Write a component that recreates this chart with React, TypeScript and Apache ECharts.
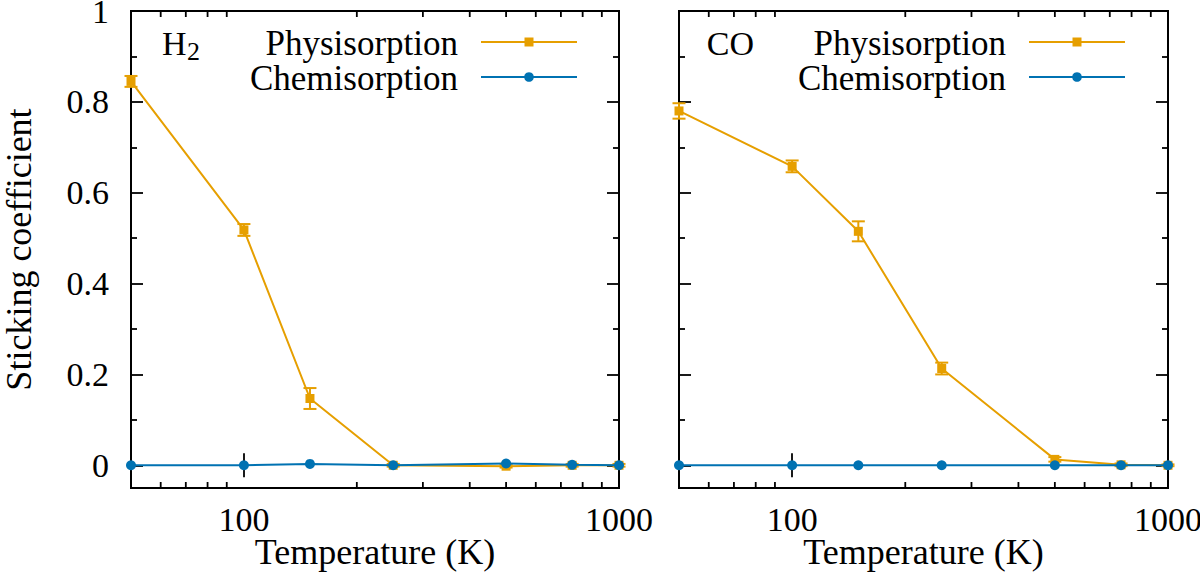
import React, { useEffect, useRef } from "react";
import * as echarts from "echarts";

// ---- Data ----
const temperatures = [50, 100, 150, 250, 500, 750, 1000];

const h2Physisorption = [0.845, 0.518, 0.147, 0.0, -0.002, 0.0, 0.0];
const h2PhysisorptionErr = [0.012, 0.013, 0.023, 0.003, 0.003, 0.003, 0.003];
const h2Chemisorption = [0.0, 0.0, 0.003, 0.0, 0.004, 0.001, 0.0];

const coPhysisorption = [0.78, 0.658, 0.515, 0.213, 0.013, 0.001, 0.0];
const coPhysisorptionErr = [0.017, 0.013, 0.022, 0.013, 0.005, 0.003, 0.002];
const coChemisorption = [0.0, 0.0, 0.0, 0.0, 0.0, 0.0, 0.0];

const xMinorTicks = [60, 70, 80, 90, 200, 300, 400, 500, 600, 700, 800, 900];
const yMajorTicks = [0, 0.2, 0.4, 0.6, 0.8, 1];
const yMinorTicks = [0.1, 0.3, 0.5, 0.7, 0.9];

const panelLabels = ["H", "CO"];
const legendNames = ["Physisorption", "Chemisorption"];

// ---- Style constants ----
const ORANGE = "#E69F00";
const BLUE = "#0072B2";
const FONT = "Liberation Serif";
const X_MIN = 50;
const X_MAX = 1000;
const Y_MIN = -0.05;
const Y_MAX = 1;

const GRIDS = [
  { left: 131, top: 11, width: 488, height: 477 },
  { left: 679, top: 11, width: 489, height: 477 },
];

function App() {
  const ref = useRef<HTMLDivElement>(null);

  useEffect(() => {
    if (!ref.current) return;
    const chart = echarts.init(ref.current, null, { renderer: "svg" });

    const xAxes: any[] = [];
    const yAxes: any[] = [];
    const series: any[] = [];
    const graphics: any[] = [];

    const tickLine = { color: "#000", width: 1.8 };

    const yAxisBase = (gi: number, position: string, values: number[], length: number) => ({
      gridIndex: gi,
      type: "value",
      min: Y_MIN,
      max: Y_MAX,
      position,
      axisLine: { show: false },
      axisTick: { show: true, inside: true, length, lineStyle: tickLine, customValues: values },
      axisLabel: { show: false },
      splitLine: { show: false },
    });

    GRIDS.forEach((g, gi) => {
      xAxes.push({
        gridIndex: gi,
        type: "log",
        logBase: 10,
        min: X_MIN,
        max: X_MAX,
        position: "bottom",
        axisLine: { show: false },
        axisTick: { show: true, inside: true, length: 12, lineStyle: tickLine },
        axisLabel: {
          show: true,
          showMinLabel: false,
          color: "#000",
          fontFamily: FONT,
          fontSize: 34,
          lineHeight: 30,
          margin: 16,
          formatter: (v: number) => String(Math.round(v)),
        },
        splitLine: { show: false },
        minorTick: { show: false },
        name: "Temperature (K)",
        nameLocation: "middle",
        nameGap: 46,
        nameMoveOverlap: false,
        nameTextStyle: { color: "#000", fontFamily: FONT, fontSize: 36, lineHeight: 36 },
      });
      xAxes.push({
        gridIndex: gi,
        type: "log",
        logBase: 10,
        min: X_MIN,
        max: X_MAX,
        position: "top",
        axisLine: { show: false },
        axisTick: { show: true, inside: true, length: 12, lineStyle: tickLine },
        axisLabel: { show: false },
        splitLine: { show: false },
      });
      const yMain: any = yAxisBase(gi, "left", yMajorTicks, 12);
      yMain.axisLabel = {
        show: gi === 0,
        customValues: yMajorTicks,
        color: "#000",
        fontFamily: FONT,
        fontSize: 34,
        lineHeight: 22,
        margin: 22,
      };
      if (gi === 0) {
        yMain.name = "Sticking coefficient";
        yMain.nameLocation = "middle";
        yMain.nameGap = 94;
        yMain.nameMoveOverlap = false;
        yMain.nameTextStyle = { color: "#000", fontFamily: FONT, fontSize: 36, lineHeight: 36 };
      }
      yAxes.push(yMain);
      yAxes.push(yAxisBase(gi, "left", yMinorTicks, 6));
      yAxes.push(yAxisBase(gi, "right", yMajorTicks, 12));
      yAxes.push(yAxisBase(gi, "right", yMinorTicks, 6));
    });

    const xIdx = (gi: number) => gi * 2;
    const yIdx = (gi: number) => gi * 4;

    const panels = [
      { phys: h2Physisorption, err: h2PhysisorptionErr, chem: h2Chemisorption },
      { phys: coPhysisorption, err: coPhysisorptionErr, chem: coChemisorption },
    ];

    panels.forEach((p, gi) => {
      series.push({
        type: "custom",
        xAxisIndex: xIdx(gi),
        yAxisIndex: yIdx(gi),
        data: xMinorTicks.map((t) => [t, Y_MIN]),
        silent: true,
        clip: false,
        z: 1,
        renderItem: (params: any, api: any) => {
          const pt = api.coord([api.value(0), api.value(1)]);
          const cs = params.coordSys;
          const st = { stroke: "#000", lineWidth: 1.8 };
          return {
            type: "group",
            children: [
              { type: "line", shape: { x1: pt[0], y1: cs.y + cs.height, x2: pt[0], y2: cs.y + cs.height - 6 }, style: st },
              { type: "line", shape: { x1: pt[0], y1: cs.y, x2: pt[0], y2: cs.y + 6 }, style: st },
            ],
          };
        },
      });
      series.push({
        type: "custom",
        xAxisIndex: xIdx(gi),
        yAxisIndex: yIdx(gi),
        data: temperatures.map((t, i) => [t, p.phys[i] - p.err[i], p.phys[i] + p.err[i]]),
        encode: { x: 0, y: [1, 2] },
        silent: true,
        clip: false,
        z: 3,
        renderItem: (params: any, api: any) => {
          const x = api.value(0);
          const lo = api.coord([x, api.value(1)]);
          const hi = api.coord([x, api.value(2)]);
          const hw = 6.5;
          const st = { stroke: ORANGE, lineWidth: 2 };
          return {
            type: "group",
            children: [
              { type: "line", shape: { x1: lo[0], y1: lo[1], x2: hi[0], y2: hi[1] }, style: st },
              { type: "line", shape: { x1: lo[0] - hw, y1: lo[1], x2: lo[0] + hw, y2: lo[1] }, style: st },
              { type: "line", shape: { x1: hi[0] - hw, y1: hi[1], x2: hi[0] + hw, y2: hi[1] }, style: st },
            ],
          };
        },
      });
      series.push({
        name: legendNames[0],
        type: "line",
        xAxisIndex: xIdx(gi),
        yAxisIndex: yIdx(gi),
        data: temperatures.map((t, i) => [t, p.phys[i]]),
        symbol: "rect",
        symbolSize: 9,
        showAllSymbol: true,
        clip: false,
        z: 4,
        lineStyle: { color: ORANGE, width: 2 },
        itemStyle: { color: ORANGE },
      });
      series.push({
        name: legendNames[1],
        type: "line",
        xAxisIndex: xIdx(gi),
        yAxisIndex: yIdx(gi),
        data: temperatures.map((t, i) => [t, p.chem[i]]),
        symbol: "circle",
        symbolSize: 10,
        showAllSymbol: true,
        clip: false,
        z: 5,
        lineStyle: { color: BLUE, width: 2 },
        itemStyle: { color: BLUE },
      });

      const g = GRIDS[gi];
      const textEnd = g.left + 327;
      const lineL = g.left + 350;
      const lineR = g.left + 446;
      const mk = g.left + 398;
      const rows = [43, 78];
      if (gi === 0) {
        graphics.push({
          type: "text",
          x: g.left + 31,
          y: rows[0],
          style: { text: panelLabels[0], fontFamily: FONT, fontSize: 34, lineHeight: 28, fill: "#000", align: "left", verticalAlign: "middle" },
        });
        graphics.push({
          type: "text",
          x: g.left + 56,
          y: rows[0] + 8,
          style: { text: "2", fontFamily: FONT, fontSize: 26, lineHeight: 20, fill: "#000", align: "left", verticalAlign: "middle" },
        });
      } else {
        graphics.push({
          type: "text",
          x: g.left + 75,
          y: rows[0],
          style: { text: panelLabels[1], fontFamily: FONT, fontSize: 34, lineHeight: 28, fill: "#000", align: "right", verticalAlign: "middle" },
        });
      }
      legendNames.forEach((nm, ri) => {
        graphics.push({
          type: "text",
          x: textEnd,
          y: rows[ri],
          style: { text: nm, fontFamily: FONT, fontSize: 35, lineHeight: 28, fill: "#000", align: "right", verticalAlign: "middle" },
        });
        const col = ri === 0 ? ORANGE : BLUE;
        graphics.push({
          type: "line",
          shape: { x1: lineL, y1: rows[ri] - 1, x2: lineR, y2: rows[ri] - 1 },
          style: { stroke: col, lineWidth: 2 },
        });
        if (ri === 0) {
          graphics.push({
            type: "rect",
            shape: { x: mk - 4.5, y: rows[ri] - 1 - 4.5, width: 9, height: 9 },
            style: { fill: col },
          });
        } else {
          graphics.push({
            type: "circle",
            shape: { cx: mk, cy: rows[ri] - 1, r: 4.8 },
            style: { fill: col },
          });
        }
      });
    });

    chart.setOption({
      animation: false,
      backgroundColor: "#fff",
      grid: GRIDS.map((g) => ({
        ...g,
        show: true,
        borderColor: "#000",
        borderWidth: 2,
        backgroundColor: "transparent",
        containLabel: false,
        outerBoundsMode: "none",
      })),
      xAxis: xAxes,
      yAxis: yAxes,
      series,
      graphic: graphics,
    });

    return () => chart.dispose();
  }, []);

  return (
    <div
      ref={ref}
      style={{ position: "absolute", left: 0, top: 0, width: 1200, height: 574 }}
    />
  );
}

export default App;
